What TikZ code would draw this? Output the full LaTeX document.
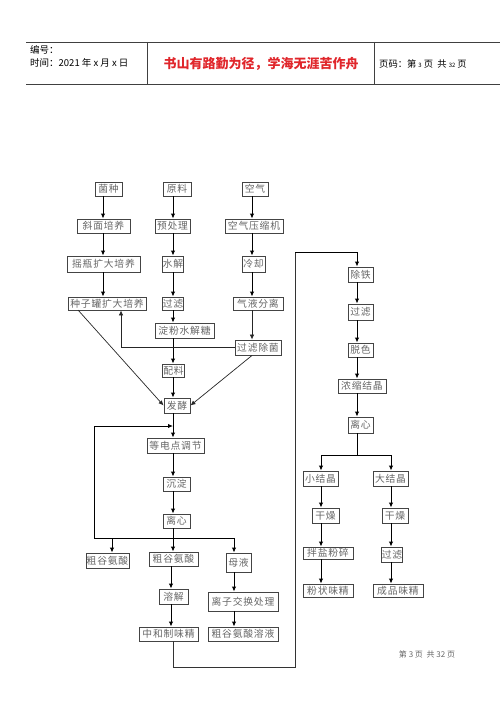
\documentclass[tikz,border=0pt]{standalone}
\usepackage{fontspec}
\setmainfont{Noto Sans CJK SC}
\newfontfamily\boxfont[LetterSpace=8]{Noto Sans CJK SC}
\usetikzlibrary{arrows.meta}
\definecolor{boxline}{HTML}{444444}
\definecolor{boxtext}{HTML}{666666}
\definecolor{titlered}{HTML}{E0262B}
\tikzset{
  box/.style={draw=boxline, line width=0.9pt, text=boxtext, inner sep=0pt,
    font=\boxfont\fontsize{9.8}{10}\selectfont},
  arr/.style={draw=black, line width=1pt, -{Latex[length=5pt,width=4.5pt]}},
  ln/.style={draw=black, line width=0.9pt},
  diag/.style={draw=black!85, line width=0.7pt, -{Latex[length=5pt,width=4.5pt]}},
  rule/.style={draw=black!75, line width=0.8pt}
}
\newcommand{\bx}[6]{\node[box, minimum width=#4, minimum height=#5] (#1) at (#2,#3) {#6};}
\begin{document}
\begin{tikzpicture}[x=1pt, y=-1pt]
\useasboundingbox (0,0) rectangle (500,706);
% header
\draw[rule] (26,42) -- (500,42);
\draw[rule] (26,84) -- (500,84);
\draw[rule] (147,42) -- (147,84);
\draw[rule] (374,42) -- (374,84);
\node[anchor=west, font=\fontsize{9.5}{10}\selectfont, inner sep=0pt] (hno) at (30,50) {编号：};
\node[anchor=west, font=\fontsize{9.5}{10}\selectfont, inner sep=0pt] (htime) at (30,63) {时间：2021 年 x 月 x 日};
\node[font=\fontsize{13}{14}\selectfont\bfseries, text=titlered, inner sep=0pt] (htitle) at (261,64) {书山有路勤为径，学海无涯苦作舟};
\node[anchor=west, font=\fontsize{9.3}{10}\selectfont, inner sep=0pt] (hpage) at (379,64) {页码：第 {\fontsize{6}{7}\selectfont 3} 页 \ 共 {\fontsize{6}{7}\selectfont 32} 页};
% footer
\node[font=\fontsize{8}{9}\selectfont, text=black!60, inner sep=0pt] (foot) at (427,654) {第 3 页 \ 共 32 页};
% column helpers
\coordinate (c1x) at (103,0);
\coordinate (c2x) at (173,0);
\coordinate (c3x) at (252,0);
\coordinate (c4x) at (357,0);
% column 1
\bx{junzhong}{108.5}{189}{27}{14}{菌种}
\bx{xiemian}{103.5}{226}{53}{14}{斜面培养}
\bx{yaoping}{103.5}{264}{73}{16}{摇瓶扩大培养}
\bx{zhongzi}{107}{303.5}{78}{13}{种子罐扩大培养}
% column 2
\bx{yuanliao}{177}{189}{28}{14}{原料}
\bx{yuchuli}{172.5}{226}{35}{14}{预处理}
\bx{shuijie}{173}{264}{21}{16}{水解}
\bx{guolvA}{173}{303.5}{21}{13}{过滤}
\bx{dianfen}{184.5}{330.5}{59}{15}{淀粉水解糖}
\bx{peiliao}{173.5}{370.5}{22}{13}{配料}
\bx{fajiao}{177}{405.5}{26}{15}{发酵}
% column 3
\bx{kongqi}{255}{189}{26}{14}{空气}
\bx{yasuo}{254}{226}{58}{14}{空气压缩机}
\bx{lengque}{253.5}{264}{23}{16}{冷却}
\bx{qiye}{258}{303.5}{50}{13}{气液分离}
\bx{chujun}{258}{347.5}{46}{15}{过滤除菌}
% lower middle
\bx{dengdian}{175.5}{445.5}{57}{15}{等电点调节}
\bx{chendian}{176.5}{484}{27}{14}{沉淀}
\bx{lixinA}{176.5}{521}{27}{14}{离心}
\bx{cuA}{107.5}{560.5}{43}{15}{粗谷氨酸}
\bx{cuB}{173.5}{559}{49}{14}{粗谷氨酸}
\bx{muye}{238.5}{562.5}{25}{19}{母液}
\bx{rongjie}{173.5}{596.5}{29}{15}{溶解}
\bx{zhonghe}{168.5}{634}{59}{14}{中和制味精}
\bx{lizi}{243}{601.5}{70}{19}{离子交换处理}
\bx{cusol}{243}{634}{70}{14}{粗谷氨酸溶液}
% right column
\bx{chutie}{360.5}{274.5}{25}{15}{除铁}
\bx{guolvB}{360.5}{312}{25}{16}{过滤}
\bx{tuose}{360.5}{350}{25}{14}{脱色}
\bx{nongsuo}{362}{386}{48}{14}{浓缩结晶}
\bx{lixinB}{360.5}{425}{25}{16}{离心}
\bx{xiaojie}{320.5}{478.5}{35}{15}{小结晶}
\bx{dajie}{390.5}{478.5}{35}{15}{大结晶}
\bx{ganzaoA}{325.5}{515.5}{27}{15}{干燥}
\bx{ganzaoB}{395}{515.5}{26}{15}{干燥}
\bx{banyan}{328}{553}{50}{12}{拌盐粉碎}
\bx{guolvC}{392}{554.5}{20}{15}{过滤}
\bx{fenzhuang}{328}{590.5}{50}{13}{粉状味精}
\bx{chengpin}{398}{590.5}{50}{13}{成品味精}
% column 1 arrows
\draw[arr] (junzhong.south -| c1x) -- (xiemian.north -| c1x);
\draw[arr] (xiemian.south -| c1x) -- (yaoping.north -| c1x);
\draw[arr] (yaoping.south -| c1x) -- (zhongzi.north -| c1x);
% column 2 arrows
\draw[arr] (yuanliao.south -| c2x) -- (yuchuli.north -| c2x);
\draw[arr] (yuchuli.south -| c2x) -- (shuijie.north -| c2x);
\draw[arr] (shuijie.south -| c2x) -- (guolvA.north -| c2x);
\draw[arr] (guolvA.south -| c2x) -- (dianfen.north -| c2x);
\draw[arr] (dianfen.south -| c2x) -- (peiliao.north -| c2x);
\draw[arr] (peiliao.south -| c2x) -- (fajiao.north -| c2x);
% column 3 arrows
\draw[arr] (kongqi.south -| c3x) -- (yasuo.north -| c3x);
\draw[arr] (yasuo.south -| c3x) -- (lengque.north -| c3x);
\draw[arr] (lengque.south -| c3x) -- (qiye.north -| c3x);
\draw[diag] (qiye.south -| c3x) -- (chujun.north -| c3x);
% cross connectors
\coordinate (fbx) at (121,0);
\draw[diag] (chujun.west) -| (zhongzi.south -| fbx);
\coordinate (zs) at (78,310);
\draw[diag] (zs) -- (fajiao.west);
\draw[diag] (chujun.south -| c3x) -- (fajiao.east);
% fermentation to separation
\coordinate (loopT) at (173,426);
\draw[ln] (fajiao.south -| c2x) -- (loopT);
\draw[arr] (loopT) -- (dengdian.north -| c2x);
\draw[arr] (dengdian.south -| c2x) -- (chendian.north -| c2x);
\draw[arr] (chendian.south -| c2x) -- (lixinA.north -| c2x);
\coordinate (bA) at (112,538);
\coordinate (bB) at (173,538);
\coordinate (bC) at (234,538);
\coordinate (loopL) at (94,538);
\draw[ln] (lixinA.south -| c2x) -- (bB);
\draw[ln] (loopL) -- (bC);
\draw[arr] (loopL) |- (loopT);
\draw[arr] (bA) -- (bA |- cuA.north);
\draw[arr] (bB) -- (bB |- cuB.north);
\draw[arr] (bC) -- (bC |- muye.north);
\coordinate (rx) at (171,0);
\draw[arr] (cuB.south -| rx) -- (rongjie.north -| rx);
\draw[arr] (rongjie.south -| rx) -- (zhonghe.north -| rx);
\draw[arr] (muye.south -| bC) -- (lizi.north -| bC);
\draw[arr] (lizi.south -| bC) -- (cusol.north -| bC);
% long return connector
\coordinate (pA) at (295,667);
\coordinate (pB) at (295,252);
\draw[ln, draw=black!80] (zhonghe.south -| bB) |- (pA) -- (pB);
\draw[arr] (pB) -| (chutie.north -| c4x);
% right column arrows
\draw[arr] (chutie.south -| c4x) -- (guolvB.north -| c4x);
\draw[arr] (guolvB.south -| c4x) -- (tuose.north -| c4x);
\draw[arr] (tuose.south -| c4x) -- (nongsuo.north -| c4x);
\draw[arr] (nongsuo.south -| c4x) -- (lixinB.north -| c4x);
\coordinate (sB) at (357,455);
\coordinate (sL) at (321,455);
\coordinate (sR) at (391,455);
\draw[ln] (lixinB.south -| c4x) -- (sB);
\draw[ln] (sL) -- (sR);
\draw[arr] (sL) -- (sL |- xiaojie.north);
\draw[arr] (sR) -- (sR |- dajie.north);
\draw[arr] (xiaojie.south -| sL) -- (ganzaoA.north -| sL);
\draw[arr] (ganzaoA.south -| sL) -- (banyan.north -| sL);
\draw[arr] (banyan.south -| sL) -- (fenzhuang.north -| sL);
\draw[arr] (dajie.south -| sR) -- (ganzaoB.north -| sR);
\draw[arr] (ganzaoB.south -| sR) -- (guolvC.north -| sR);
\draw[arr] (guolvC.south -| sR) -- (chengpin.north -| sR);
\end{tikzpicture}
\end{document}
